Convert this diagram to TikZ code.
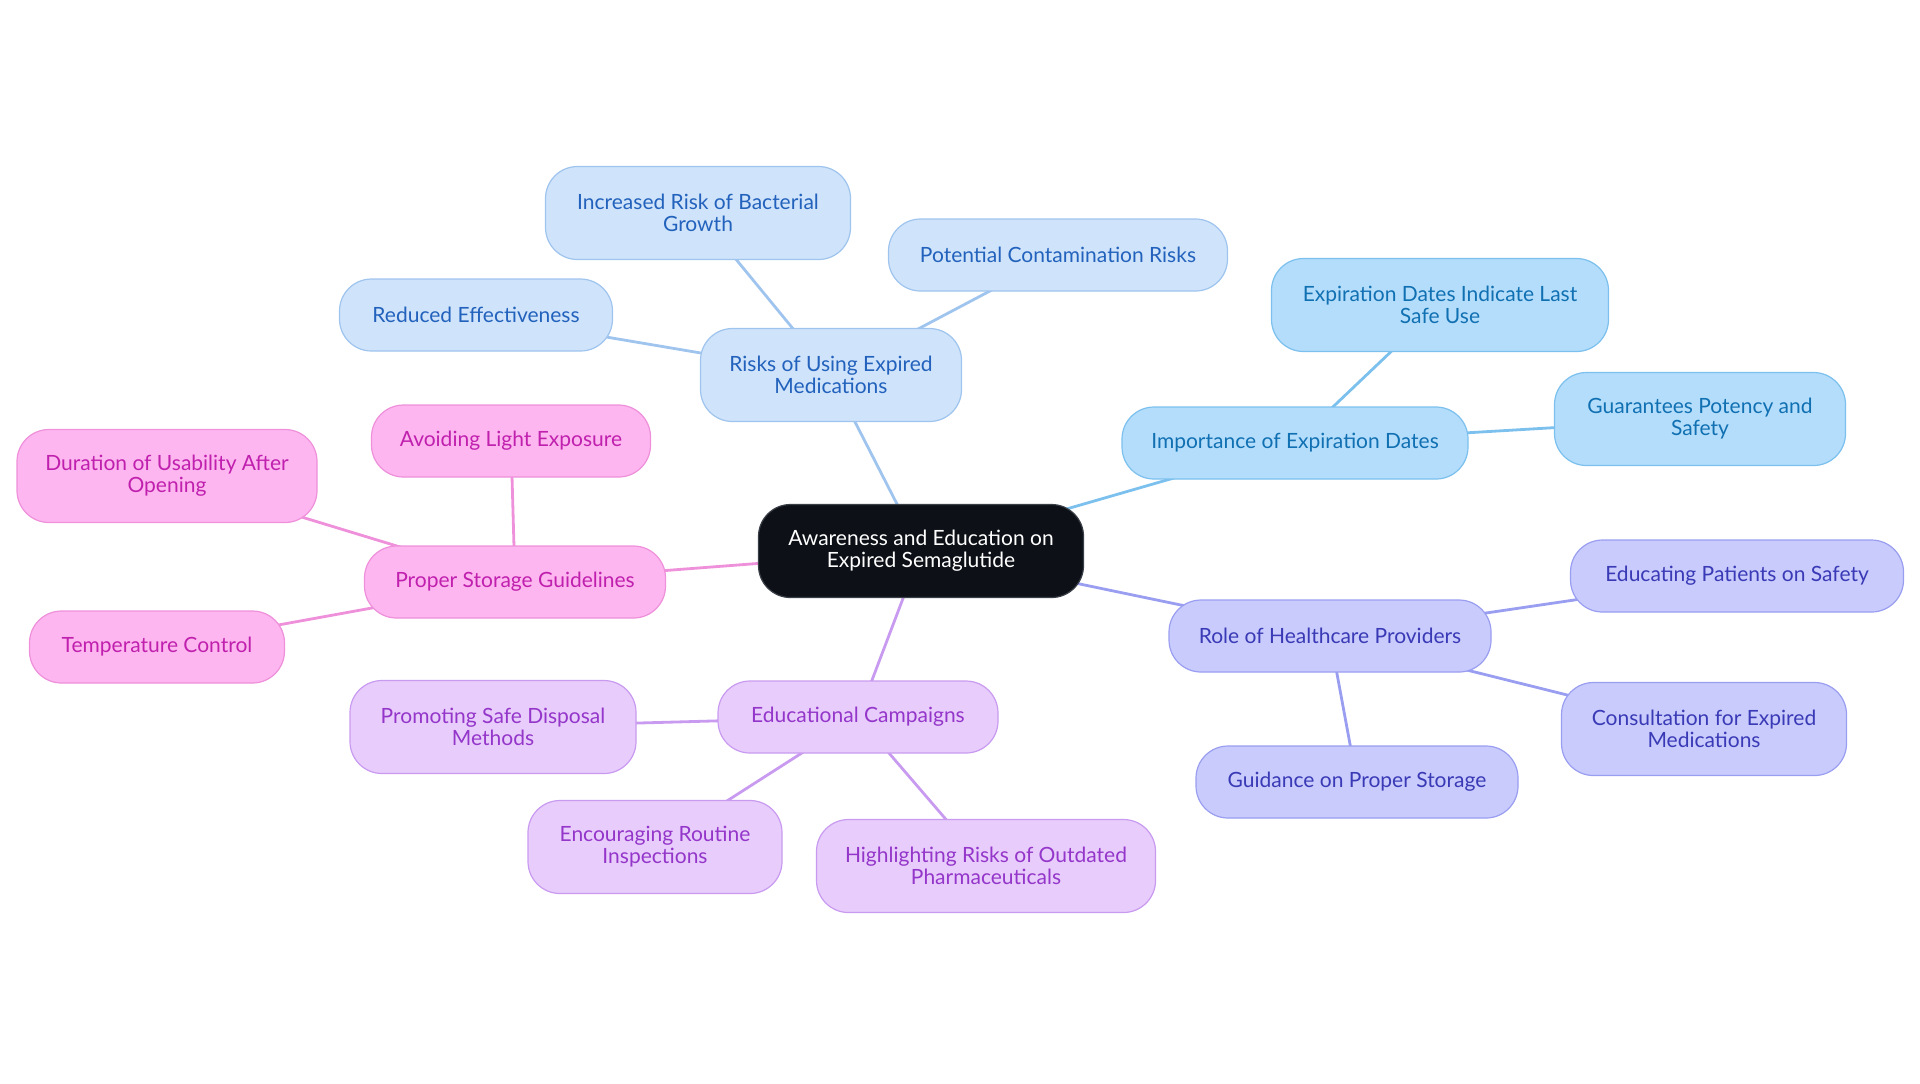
\documentclass[tikz,border=0pt]{standalone}
\usepackage{fontspec}
\setmainfont{Lato}
\usetikzlibrary{backgrounds}
\definecolor{corefill}{HTML}{0D1117}
\definecolor{coreline}{HTML}{3A3F47}
\definecolor{riskfill}{HTML}{CFE3FB}
\definecolor{riskline}{HTML}{9FC4EE}
\definecolor{risktext}{HTML}{2262BC}
\definecolor{datefill}{HTML}{B3DDFB}
\definecolor{dateline}{HTML}{7CC0EE}
\definecolor{datetext}{HTML}{1070B2}
\definecolor{rolefill}{HTML}{C8CBFC}
\definecolor{roleline}{HTML}{9A9EF0}
\definecolor{roletext}{HTML}{3A3AB6}
\definecolor{campfill}{HTML}{E8CCFC}
\definecolor{campline}{HTML}{C99BF0}
\definecolor{camptext}{HTML}{9436C9}
\definecolor{storefill}{HTML}{FDB6F0}
\definecolor{storeline}{HTML}{EE90DA}
\definecolor{storetext}{HTML}{C020AE}
\tikzset{
  leaf/.style={draw, rounded corners=16pt, line width=0.6pt, align=center, inner xsep=12pt, inner ysep=0pt, minimum height=36pt, font=\fontsize{10.5}{11}\selectfont},
  tall/.style={minimum height=46.5pt},
  risk/.style={leaf, fill=riskfill, draw=riskline, text=risktext},
  date/.style={leaf, fill=datefill, draw=dateline, text=datetext},
  role/.style={leaf, fill=rolefill, draw=roleline, text=roletext},
  camp/.style={leaf, fill=campfill, draw=campline, text=camptext},
  store/.style={leaf, fill=storefill, draw=storeline, text=storetext},
  link/.style={line width=1.4pt}
}
\begin{document}
\begin{tikzpicture}[x=0.5pt, y=-0.5pt]
	\useasboundingbox (0,0) rectangle (1920,1083);
	\node[leaf, tall, fill=corefill, draw=coreline, text=white, minimum width=162.5pt] (aware) at (921,551) {Awareness and Education on\\Expired Semaglutide};

	\node[risk, tall, minimum width=130.5pt] (risks) at (831,375) {Risks of Using Expired\\Medications};
	\node[risk, tall, minimum width=152.5pt] (bact) at (698,213) {Increased Risk of Bacterial\\Growth};
	\node[risk, minimum width=169.5pt] (contam) at (1058,255) {Potential Contamination Risks};
	\node[risk, minimum width=136.5pt] (reduced) at (476,315) {Reduced Effectiveness};

	\node[date, minimum width=173pt] (dates) at (1295,443) {Importance of Expiration Dates};
	\node[date, tall, minimum width=168.5pt] (lastuse) at (1440,305) {Expiration Dates Indicate Last\\Safe Use};
	\node[date, tall, minimum width=145.5pt] (potency) at (1700,419) {Guarantees Potency and\\Safety};

	\node[role, minimum width=161pt] (role) at (1330,636) {Role of Healthcare Providers};
	\node[role, minimum width=166.5pt] (patients) at (1737,576) {Educating Patients on Safety};
	\node[role, tall, minimum width=142.5pt] (consult) at (1704,729) {Consultation for Expired\\Medications};
	\node[role, minimum width=161pt] (guide) at (1357,782) {Guidance on Proper Storage};

	\node[camp, minimum width=140pt] (campaign) at (858,717) {Educational Campaigns};
	\node[camp, tall, minimum width=143pt] (disposal) at (493,727) {Promoting Safe Disposal\\Methods};
	\node[camp, tall, minimum width=127pt] (inspect) at (655,847) {Encouraging Routine\\Inspections};
	\node[camp, tall, minimum width=169.5pt] (outdated) at (986,866) {Highlighting Risks of Outdated\\Pharmaceuticals};

	\node[store, minimum width=150.5pt] (storage) at (515,582) {Proper Storage Guidelines};
	\node[store, minimum width=139.5pt] (light) at (511,441) {Avoiding Light Exposure};
	\node[store, tall, minimum width=150pt] (duration) at (167,476) {Duration of Usability After\\Opening};
	\node[store, minimum width=127.5pt] (temp) at (157,647) {Temperature Control};

	\begin{scope}[on background layer]
		\foreach \n in {aware, bact, contam, reduced} \draw[link, riskline] (risks.center) -- (\n.center);
		\foreach \n in {aware, lastuse, potency} \draw[link, dateline] (dates.center) -- (\n.center);
		\foreach \n in {aware, patients, consult, guide} \draw[link, roleline] (role.center) -- (\n.center);
		\foreach \n in {aware, disposal, inspect, outdated} \draw[link, campline] (campaign.center) -- (\n.center);
		\foreach \n in {aware, light, duration, temp} \draw[link, storeline] (storage.center) -- (\n.center);
	\end{scope}
\end{tikzpicture}
\end{document}
